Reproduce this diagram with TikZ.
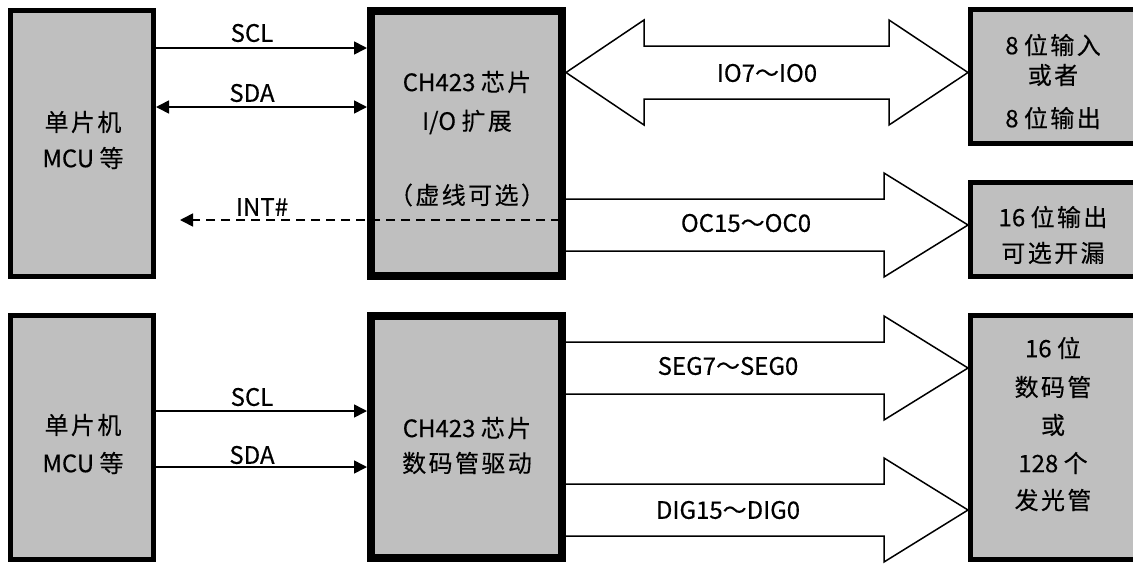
\documentclass[tikz,border=0pt]{standalone}
\usepackage{fontspec}
\setmainfont[FakeBold=0.35]{Noto Sans CJK SC}
\newfontfamily\cjk[Scale=1.0, LetterSpace=10, FakeBold=0.3]{Noto Sans CJK SC}
\usetikzlibrary{arrows.meta}
\begin{document}
\begin{tikzpicture}[x=1pt,y=-1pt,
  every node/.style={font=\fontsize{24}{28}\selectfont, inner sep=0pt},
  mcubox/.style={draw=black, fill=black!25, line width=5pt, minimum width=143pt, inner sep=0pt},
  chipbox/.style={draw=black, fill=black!25, line width=8pt, minimum width=191pt, inner sep=0pt},
  outbox/.style={draw=black, fill=black!25, line width=5pt, minimum width=174.5pt, inner sep=0pt},
  sig/.style={line width=1.6pt},
  tipA/.style={-{Triangle[length=13pt,width=13pt]}},
  tipB/.style={{Triangle[length=13pt,width=13pt]}-{Triangle[length=13pt,width=13pt]}},
  bigarrow/.style={draw=black, fill=white, line width=1.5pt, line join=miter},
  lbl/.style={anchor=center}
]
\useasboundingbox (0,0) rectangle (1133,563);
% boxes
\node[mcubox, minimum height=266pt] (mcuA) at (82,143.5) {};
\node[chipbox, minimum height=265pt] (chipA) at (466.5,143.5) {};
\node[outbox, minimum height=134pt] (outA) at (1057.75,76.5) {};
\node[outbox, minimum height=94pt] (outB) at (1057.75,229.5) {};
\node[mcubox, minimum height=244pt] (mcuB) at (82,437.5) {};
\node[chipbox, minimum height=242pt] (chipB) at (466.5,437) {};
\node[outbox, minimum height=244pt] (outC) at (1057.75,437.5) {};

% box texts
\node (tA1) at (83,122) {\cjk 单片机};
\node (tA2) at (83,158) {MCU {\cjk 等}};
\node (tB1) at (467,82) {CH423 {\cjk 芯片}};
\node (tB2) at (467,122) {I/O {\cjk 扩展}};
\node (tB3) at (467,195) {\cjk （虚线可选）};
\node (tC1) at (1053,45) {8 {\cjk 位输入}};
\node (tC2) at (1053,75) {\cjk 或者};
\node (tC3) at (1053,118) {8 {\cjk 位输出}};
\node (tD1) at (1053,217) {16 {\cjk 位输出}};
\node (tD2) at (1053,253) {\cjk 可选开漏};
\node (tE1) at (83,425) {\cjk 单片机};
\node (tE2) at (83,463) {MCU {\cjk 等}};
\node (tF1) at (467,428) {CH423 {\cjk 芯片}};
\node (tF2) at (467,463) {\cjk 数码管驱动};
\node (tG1) at (1053,348) {16 {\cjk 位}};
\node (tG2) at (1053,387) {\cjk 数码管};
\node (tG3) at (1053,425) {\cjk 或};
\node (tG4) at (1053,463) {128 {\cjk 个}};
\node (tG5) at (1053,500) {\cjk 发光管};

% serial lines, top
\coordinate (sclA) at (0,48);
\coordinate (sdaA) at (0,107);
\draw[sig,tipA] (mcuA.east |- sclA) -- (chipA.west |- sclA);
\draw[sig,tipB] (mcuA.east |- sdaA) -- (chipA.west |- sdaA);
\coordinate (intStart) at (560,220);
\coordinate (intEnd) at (180,220);
\draw[sig,dash pattern=on 9pt off 6pt,-{Triangle[length=13pt,width=13pt]}] (intStart) -- (intEnd);
\node[lbl] (lSCLA) at (252,33) {SCL};
\node[lbl] (lSDAA) at (252,93) {SDA};
\node[lbl] (lINT) at (262,207) {INT\#};

% serial lines, bottom
\coordinate (sclB) at (0,411);
\coordinate (sdaB) at (0,467);
\draw[sig,tipA] (mcuB.east |- sclB) -- (chipB.west |- sclB);
\draw[sig,tipA] (mcuB.east |- sdaB) -- (chipB.west |- sdaB);
\node[lbl] (lSCLB) at (252,397) {SCL};
\node[lbl] (lSDAB) at (252,455) {SDA};

% big arrows
\draw[bigarrow] (566,72.5) -- (644,20) -- (644,46) -- (889,46) -- (889,20) -- (968,72.5)
  -- (889,125) -- (889,99) -- (644,99) -- (644,125) -- cycle;
\node[lbl] (lIO) at (767,73) {IO7{\cjk ～}IO0};

\draw[bigarrow] (566,199) -- (884,199) -- (884,173) -- (968,225) -- (884,277) -- (884,251) -- (566,251);
\node[lbl] (lOC) at (746,223) {OC15{\cjk ～}OC0};

\draw[bigarrow] (566,342) -- (884,342) -- (884,316) -- (968,368) -- (884,420) -- (884,394) -- (566,394);
\node[lbl] (lSEG) at (728,366) {SEG7{\cjk ～}SEG0};

\draw[bigarrow] (566,484) -- (884,484) -- (884,458) -- (968,510) -- (884,562) -- (884,536) -- (566,536);
\node[lbl] (lDIG) at (728,510) {DIG15{\cjk ～}DIG0};
\end{tikzpicture}
\end{document}
